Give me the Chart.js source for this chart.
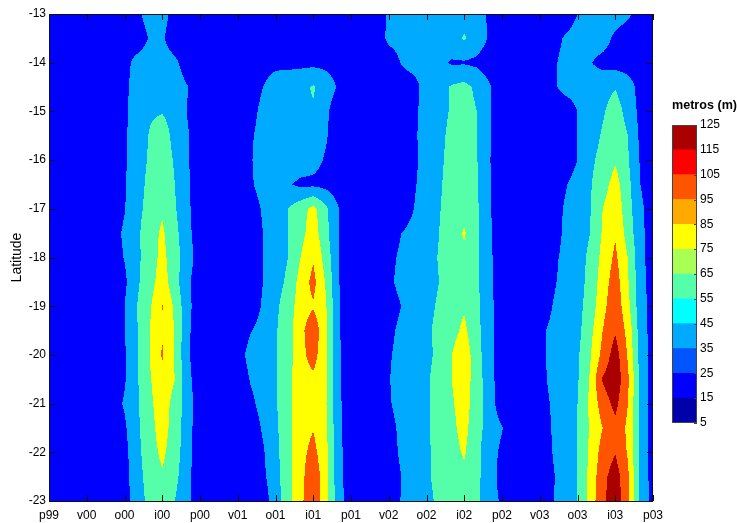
<!DOCTYPE html>
<html>
<head>
<meta charset="utf-8">
<script src="https://cdn.jsdelivr.net/npm/chart.js@4.4.0/dist/chart.umd.min.js"></script>
<style>
  html, body { margin: 0; padding: 0; background: #fff; }
  #wrap { position: relative; width: 737px; height: 523px; }
  #main { position: absolute; left: 0; top: 0; }
  #bar { position: absolute; left: 661px; top: 95px; }
</style>
</head>
<body>
<div id="wrap">
  <canvas id="main" width="737" height="523"></canvas>
  <canvas id="bar" width="76" height="340"></canvas>
</div>
<script>
// season labels, one every 3 months (x axis is in months from p99)
const seasons = ["p99", "v00", "o00", "i00", "p00", "v01", "o01", "i01", "p01",
                 "v02", "o02", "i02", "p02", "v03", "o03", "i03", "p03"];
const latTicks = [-13, -14, -15, -16, -17, -18, -19, -20, -21, -22, -23];

// grid rows (latitude), columns are months 0..48
const lats = [-13, -13.5, -14, -14.5, -15, -15.5, -16, -16.5, -17, -17.5, -18,
              -18.5, -19, -19.5, -20, -20.5, -21, -21.5, -22, -22.5, -23];

// depth in metres
const depth = [
  [18,18,18,18,18, 18,18,25,40,40,20,18,18, 18,18, 18,18,18,18,18,18,18,18,18,18, 18, 18,33,36,38,38,38,40,42,38,27,18,18, 18, 18,18,18,30,38,40,40,34,20,18],
  [18,18,18,18,18, 18,18,16,32,33,16,18,18, 18,18, 18,18,18,18,18,18,18,18,18,18, 18, 20,34,36,38,38,38,42,52,40,28,18,18, 18, 18,22,32,38,40,38,26,18,18,18],
  [18,18,18,18,18, 18,22,38,42,42,35,18,18, 18,18, 18,18,22,25,25,25,25,25,22,18, 18, 18,20,31,38,38,34,28,28,26,20,18,18, 18, 18,26,36,38,31,24,22,20,18,18],
  [18,18,18,18,18, 18,25,40,45,47,42,31,18, 18,18, 18,18,30,40,42,45,52,40,28,18, 18, 18,18,20,22,40,44,52,56,46,32,18,18, 18, 18,26,36,38,40,44,49,40,22,18],
  [18,18,18,18,18, 18,25,42,48,49,44,29,18, 18,18, 18,22,36,40,42,44,48,34,18,18, 18, 18,18,18,26,38,44,52,58,50,32,18,18, 18, 18,18,18,30,40,48,58,44,24,18],
  [18,18,18,18,18, 18,27,42,51,58,45,32,18, 18,18, 18,27,38,40,40,40,40,32,18,18, 18, 18,18,18,27,38,46,54,60,51,32,18,18, 18, 18,18,18,30,42,52,62,50,26,18],
  [18,18,18,18,18, 18,27,43,52,60,48,32,18, 18,18, 18,28,40,42,42,40,36,28,18,18, 18, 18,18,18,26,38,47,55,60,51,31,18,18, 18, 18,18,18,30,46,56,68,52,28,18],
  [18,18,18,18,18, 18,28,44,54,64,50,33,18, 18,18, 18,27,38,38,32,26,26,24,18,18, 18, 18,18,18,28,38,48,56,62,52,32,18,18, 18, 18,18,28,38,48,62,78,56,30,18],
  [18,18,18,18,18, 18,29,45,56,68,52,34,18, 18,18, 18,20,32,40,50,62,76,54,31,18, 18, 18,18,18,30,40,49,57,64,53,32,18,18, 18, 18,20,32,40,49,70,84,58,34,20],
  [18,18,18,18,18, 22,33,46,62,73,56,36,18, 18,18, 18,18,30,40,50,64,80,56,31,18, 18, 18,18,30,36,42,50,60,72,54,33,18,18, 18, 18,21,33,40,50,72,88,62,35,20],
  [18,18,18,18,18, 20,31,46,60,76,58,40,19, 18,18, 18,18,30,40,50,70,88,62,31,18, 18, 18,24,34,38,44,51,60,66,54,34,18,18, 18, 18,26,34,42,54,76,94,70,36,20],
  [18,18,18,18,18, 18,26,47,62,80,58,34,18, 18,18, 18,18,30,42,54,78,96,68,31,18, 18, 18,26,36,38,44,50,60,66,53,35,18,18, 18, 18,28,34,42,56,80,100,72,37,22],
  [18,18,18,18,18, 18,30,50,67,91,66,36,18, 18,18, 18,20,32,46,60,80,88,72,32,18, 18, 18,20,30,38,46,52,62,68,55,36,18,18, 18, 18,30,36,44,58,84,104,76,38,22],
  [18,18,18,18,18, 18,29,49,70,88,69,34,18, 18,18, 18,29,36,48,62,84,104,74,32,18, 18, 18,25,35,40,48,53,64,74,56,36,18,18, 18, 26,34,38,44,64,90,108,84,40,22],
  [18,18,18,18,18, 18,28,49,70,92,68,33,18, 18,18, 22,36,40,48,62,84,98,74,33,18, 18, 18,28,36,42,46,54,70,82,58,37,18,18, 18, 26,34,40,47,68,96,120,88,42,22],
  [18,18,18,18,18, 18,28,48,68,84,70,36,18, 18,18, 18,31,38,48,64,82,86,74,33,18, 18, 18,29,38,42,48,56,70,80,60,38,18,18, 18, 25,34,40,48,72,112,124,94,44,22],
  [18,18,18,18,18, 21,32,47,66,80,63,40,18, 18,18, 18,26,36,48,64,82,86,72,34,18, 18, 18,28,37,42,48,56,68,78,60,40,18,18, 18, 22,32,40,50,74,100,116,90,44,22],
  [18,18,18,18,18, 18,27,46,64,78,62,38,18, 18,18, 18,20,32,46,64,82,89,74,35,18, 18, 18,24,34,40,48,55,66,76,57,42,31,18, 18, 20,31,40,50,72,90,104,86,44,22],
  [18,18,18,18,18, 18,24,44,62,74,60,37,18, 18,18, 18,18,28,44,64,84,96,76,36,18, 18, 18,22,33,40,48,54,64,72,55,38,26,18, 18, 19,30,40,50,74,98,109,88,44,22],
  [18,18,18,18,18, 18,23,42,59,68,56,35,18, 18,18, 18,18,26,42,64,84,104,78,36,18, 18, 18,20,30,40,48,54,62,66,55,38,24,18, 18, 18,28,38,50,76,104,120,94,44,22],
  [18,18,18,18,18, 18,22,40,56,64,50,34,18, 18,18, 18,18,20,40,62,86,104,78,40,19, 18, 18,18,31,40,46,53,60,62,54,36,28,18, 18, 18,29,38,50,78,106,122,96,46,22]
];

// colour bar levels and the contour levels used in the plot
const levels = [5, 15, 25, 35, 45, 55, 65, 75, 85, 95, 105, 115, 125];
const barColors = ["#0000AA", "#0000FF", "#0055FF", "#00AAFF", "#00FFFF", "#55FFAA",
                   "#AAFF55", "#FFFF00", "#FFAA00", "#FF5500", "#FF0000", "#AA0000"];
const contourLevels = [30, 50, 70, 90, 110];
const fillColors = ["#0000FF", "#00AAFF", "#55FFAA", "#FFFF00", "#FF5500", "#AA0000"];

const FONT = "'Liberation Sans', Arial, Helvetica, sans-serif";

function hexToRgb(h) {
  return [parseInt(h.slice(1, 3), 16), parseInt(h.slice(3, 5), 16), parseInt(h.slice(5, 7), 16)];
}

const contourPlugin = {
  id: "contour",
  beforeDatasetsDraw(chart) {
    const { ctx, chartArea: a, scales: { x, y } } = chart;
    const w = Math.round(a.right - a.left), h = Math.round(a.bottom - a.top);
    const off = document.createElement("canvas");
    off.width = w; off.height = h;
    const octx = off.getContext("2d");
    const img = octx.createImageData(w, h);
    const rgb = fillColors.map(hexToRgb);
    const dLat = lats[0] - lats[1];
    const nr = lats.length, nc = depth[0].length;
    for (let j = 0; j < h; j++) {
      const lat = y.getValueForPixel(a.top + j + 0.5);
      let r = Math.max(0, Math.min(nr - 1, (lats[0] - lat) / dLat));
      const r0 = Math.min(Math.floor(r), nr - 2), fr = r - r0;
      for (let i = 0; i < w; i++) {
        let m = Math.max(0, Math.min(nc - 1, x.getValueForPixel(a.left + i + 0.5)));
        const c0 = Math.min(Math.floor(m), nc - 2), fc = m - c0;
        const top = depth[r0][c0] * (1 - fc) + depth[r0][c0 + 1] * fc;
        const bot = depth[r0 + 1][c0] * (1 - fc) + depth[r0 + 1][c0 + 1] * fc;
        const v = top * (1 - fr) + bot * fr;
        let k = 0;
        while (k < contourLevels.length && v >= contourLevels[k]) k++;
        const p = (j * w + i) * 4;
        img.data[p] = rgb[k][0]; img.data[p + 1] = rgb[k][1]; img.data[p + 2] = rgb[k][2]; img.data[p + 3] = 255;
      }
    }
    octx.putImageData(img, 0, 0);
    ctx.drawImage(off, a.left, a.top);
  },
  afterDatasetsDraw(chart) {
    const { ctx, chartArea: a, scales: { x, y } } = chart;
    ctx.save();
    ctx.strokeStyle = "#111";
    ctx.lineWidth = 1;
    ctx.strokeRect(a.left + 0.5, a.top + 0.5, a.right - a.left - 1, a.bottom - a.top);
    ctx.beginPath();
    x.ticks.forEach(t => {
      const px = Math.round(x.getPixelForValue(t.value)) + 0.5;
      ctx.moveTo(px, a.bottom); ctx.lineTo(px, a.bottom - 6);
      ctx.moveTo(px, a.top); ctx.lineTo(px, a.top + 6);
    });
    y.ticks.forEach(t => {
      const py = Math.round(y.getPixelForValue(t.value)) + 0.5;
      ctx.moveTo(a.left, py); ctx.lineTo(a.left + 6, py);
      ctx.moveTo(a.right, py); ctx.lineTo(a.right - 6, py);
    });
    ctx.stroke();
    ctx.restore();
  }
};

new Chart(document.getElementById("main"), {
  type: "scatter",
  data: { datasets: [] },
  options: {
    responsive: false,
    animation: false,
    layout: { padding: { top: 14, right: 84, left: 0, bottom: 0 } },
    plugins: { legend: { display: false }, tooltip: { enabled: false } },
    scales: {
      x: {
        type: "linear", min: 0, max: 48,
        grid: { display: false, drawTicks: false },
        border: { display: false },
        afterBuildTicks: s => { s.ticks = seasons.map((_, i) => ({ value: i * 3 })); },
        afterFit: s => { s.height = 22; },
        ticks: {
          autoSkip: false, maxRotation: 0, padding: 7, color: "#000",
          font: { family: FONT, size: 12 },
          callback: v => seasons[Math.round(v / 3)]
        }
      },
      y: {
        type: "linear", min: -23, max: -13,
        grid: { display: false, drawTicks: false },
        border: { display: false },
        afterBuildTicks: s => { s.ticks = latTicks.map(v => ({ value: v })); },
        afterFit: s => { s.width = 49; },
        title: {
          display: true, text: "Latitude", color: "#000",
          font: { family: FONT, size: 14 }, padding: { top: 9, bottom: 0 }
        },
        ticks: { padding: 3, color: "#000", font: { family: FONT, size: 12 } }
      }
    }
  },
  plugins: [contourPlugin]
});

const barFrame = {
  id: "barFrame",
  afterDatasetsDraw(chart) {
    const { ctx, chartArea: a, scales: { y } } = chart;
    ctx.save();
    ctx.strokeStyle = "#444";
    ctx.lineWidth = 1;
    ctx.strokeRect(a.left + 0.5, a.top + 0.5, a.right - a.left - 1, a.bottom - a.top - 1);
    ctx.beginPath();
    y.ticks.forEach(t => {
      const py = Math.round(y.getPixelForValue(t.value)) + 0.5;
      ctx.moveTo(a.right, py); ctx.lineTo(a.right - 3, py);
    });
    ctx.stroke();
    ctx.restore();
  }
};

new Chart(document.getElementById("bar"), {
  type: "bar",
  data: {
    labels: [""],
    datasets: barColors.map((c, i) => ({
      data: [[levels[i], levels[i + 1]]],
      backgroundColor: c,
      borderWidth: 0,
      grouped: false,
      barPercentage: 1,
      categoryPercentage: 1
    }))
  },
  options: {
    responsive: false,
    animation: false,
    layout: { padding: { left: 11, bottom: 12, top: 0, right: 0 } },
    plugins: {
      legend: { display: false },
      tooltip: { enabled: false },
      title: {
        display: true, text: "metros (m)", color: "#000",
        font: { family: FONT, size: 13, weight: "bold" },
        padding: { top: 3, bottom: 11.4 }
      }
    },
    scales: {
      x: { display: false },
      y: {
        position: "right", min: 5, max: 125,
        grid: { display: false, drawTicks: false },
        border: { display: false },
        afterBuildTicks: s => { s.ticks = levels.map(v => ({ value: v })); },
        afterFit: s => { s.width = 40; },
        ticks: { padding: 3, color: "#000", font: { family: FONT, size: 12 } }
      }
    }
  },
  plugins: [barFrame]
});
</script>
</body>
</html>
